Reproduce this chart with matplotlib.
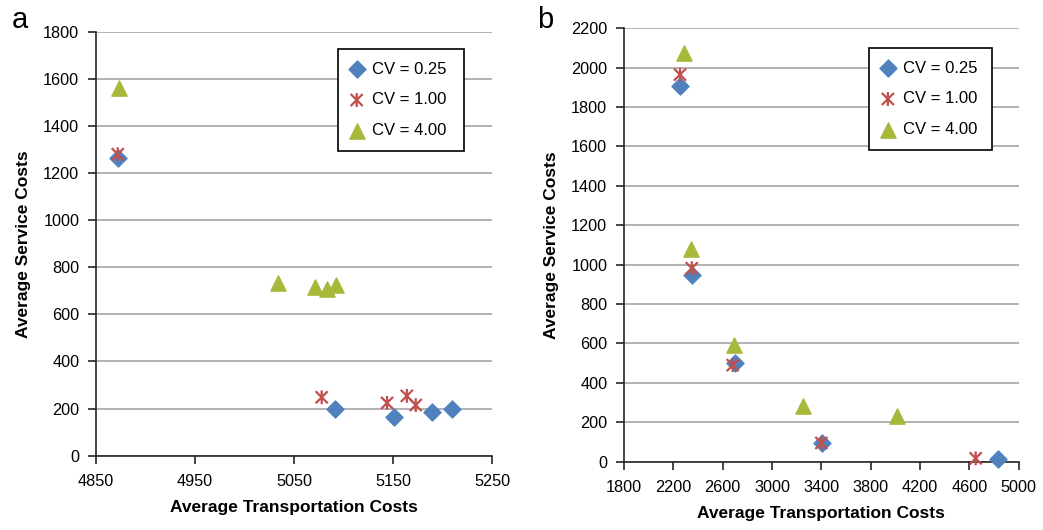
import matplotlib
matplotlib.use("Agg")
import matplotlib.pyplot as plt
from matplotlib.path import Path

plt.rcParams['font.family'] = ['Liberation Sans', 'DejaVu Sans']

# Panel a data
a_cv025_x = [4872, 5091, 5151, 5189, 5210]
a_cv025_y = [1262, 200, 163, 187, 200]
a_cv100_x = [4872, 5078, 5144, 5164, 5173]
a_cv100_y = [1280, 248, 224, 254, 215]
a_cv400_x = [4873, 5034, 5071, 5083, 5092]
a_cv400_y = [1563, 735, 715, 708, 725]

# Panel b data
b_cv025_x = [2254, 2349, 2700, 3403, 4830]
b_cv025_y = [1905, 950, 500, 93, 12]
b_cv100_x = [2254, 2349, 2681, 3400, 4651]
b_cv100_y = [1965, 982, 490, 95, 17]
b_cv400_x = [2289, 2340, 2695, 3254, 4011]
b_cv400_y = [2075, 1078, 592, 284, 232]

labels = ["CV = 0.25", "CV = 1.00", "CV = 4.00"]

a_xticks = [4850, 4950, 5050, 5150, 5250]
a_yticks = list(range(0, 1801, 200))
b_xticks = list(range(1800, 5001, 400))
b_yticks = list(range(0, 2201, 200))

BLUE = "#4F81BD"
RED = "#C0504D"
GREEN = "#A8B83A"

# Star marker: an X crossed by a vertical stroke
STAR = Path(
    [(-1, -1), (1, 1), (-1, 1), (1, -1), (0, -1.15), (0, 1.15)],
    [Path.MOVETO, Path.LINETO, Path.MOVETO, Path.LINETO, Path.MOVETO, Path.LINETO],
)

fig = plt.figure(figsize=(10.43, 5.30), dpi=100)
ax_a = fig.add_axes([0.0920, 0.1402, 0.3797, 0.8000])
ax_b = fig.add_axes([0.5983, 0.1289, 0.3784, 0.8177])


def style(ax, xs, ys, legend_box):
    ax.set_xlim(xs[0], xs[-1])
    ax.set_ylim(ys[0], ys[-1])
    ax.set_xticks(xs)
    ax.set_yticks(ys)
    ax.set_xticklabels([str(v) for v in xs])
    ax.set_yticklabels([str(v) for v in ys])
    ax.grid(axis='y', color='#A6A6A6', linewidth=1.2)
    ax.set_axisbelow(True)
    for s in ('top', 'right'):
        ax.spines[s].set_visible(False)
    for s in ('left', 'bottom'):
        ax.spines[s].set_color('#262626')
        ax.spines[s].set_linewidth(1.2)
    ax.tick_params(axis='both', direction='out', length=6, width=1.2,
                   color='#262626', labelsize=11.7, labelcolor='black')
    ax.tick_params(axis='y', pad=6)
    ax.tick_params(axis='x', pad=7)
    ax.set_xlabel("Average Transportation Costs", fontsize=12.5, fontweight='bold', labelpad=8)
    ax.set_ylabel("Average Service Costs", fontsize=12.5, fontweight='bold', labelpad=9)
    leg = ax.legend(loc='upper left', bbox_to_anchor=legend_box, mode='expand',
                    fontsize=12, frameon=True, fancybox=False, edgecolor='black',
                    framealpha=1, borderpad=0.75, labelspacing=0.95, handletextpad=0.55,
                    handlelength=0.75, borderaxespad=0)
    leg.get_frame().set_linewidth(1.2)


def draw(ax, d025, d100, d400):
    ax.scatter(*d025, marker='D', s=75, color=BLUE, label=labels[0], zorder=3, clip_on=False)
    ax.scatter(*d100, marker=STAR, s=100, facecolors='none', edgecolors=RED,
               linewidths=1.6, label=labels[1], zorder=4, clip_on=False)
    ax.scatter(*d400, marker='^', s=120, color=GREEN, label=labels[2], zorder=3, clip_on=False)


draw(ax_a, (a_cv025_x, a_cv025_y), (a_cv100_x, a_cv100_y), (a_cv400_x, a_cv400_y))
style(ax_a, a_xticks, a_yticks, (0.611, 0.959, 0.318, 0))
draw(ax_b, (b_cv025_x, b_cv025_y), (b_cv100_x, b_cv100_y), (b_cv400_x, b_cv400_y))
style(ax_b, b_xticks, b_yticks, (0.621, 0.9545, 0.312, 0))

fig.text(0.011, 0.962, "a", fontsize=21, ha='left', va='center')
fig.text(0.515, 0.962, "b", fontsize=21, ha='left', va='center')

fig.savefig("out.png", dpi=100)
